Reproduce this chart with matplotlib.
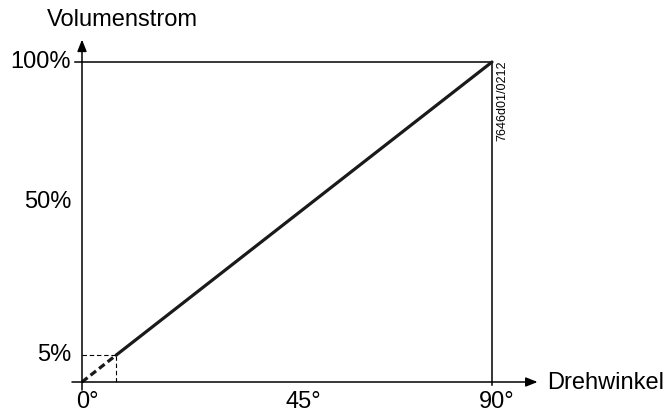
import matplotlib.pyplot as plt

plt.rcParams['font.family'] = ['Liberation Sans', 'DejaVu Sans']

# characteristic: rotation angle (deg) vs. volume flow (%)
angle = [0, 90]
flow = [0, 100]

# small-flow point shown dashed at the start
knee_angle = 7.5
knee_flow = 8.4

x_ticks = [0, 45, 90]
x_labels = ['0°', '45°', '90°']
y_ticks = [knee_flow, 56.2, 100]
y_labels = ['5%', '50%', '100%']

fig = plt.figure(figsize=(6.65, 4.16), dpi=100)
ax = fig.add_axes([82/665, 34/416, 410/665, 320/416])
ax.set_xlim(0, 90)
ax.set_ylim(0, 100)
ax.axis('off')

lw_axis = 1.1
fs = 17

# axes with arrows
ax.annotate('', xy=(100, 0), xytext=(-2.2, 0),
            arrowprops=dict(arrowstyle='-|>,head_length=0.7,head_width=0.28',
                            lw=lw_axis, color='black', shrinkA=0, shrinkB=0),
            annotation_clip=False)
ax.annotate('', xy=(0, 107), xytext=(0, -2.5),
            arrowprops=dict(arrowstyle='-|>,head_length=0.7,head_width=0.28',
                            lw=lw_axis, color='black', shrinkA=0, shrinkB=0),
            annotation_clip=False)

# frame at 100% / 90 deg
ax.plot([-1.5, angle[1]], [flow[1], flow[1]], color='black', lw=lw_axis, clip_on=False)
ax.plot([angle[1], angle[1]], [-0.8, flow[1]], color='black', lw=lw_axis, clip_on=False)

# characteristic line: dashed start, solid rest
ax.plot([angle[0], knee_angle], [flow[0], knee_flow], color='#1a1a1a', lw=2.3,
        ls=(0, (2.2, 1.2)), solid_capstyle='butt', clip_on=False)
ax.plot([knee_angle, angle[1]], [knee_flow, flow[1]], color='#1a1a1a', lw=2.3,
        solid_capstyle='round', clip_on=False)

# thin dashed helper lines for 5%
ax.plot([0, knee_angle], [knee_flow, knee_flow], color='black', lw=0.8, ls=(0, (4, 2.5)))
ax.plot([knee_angle, knee_angle], [0, knee_flow], color='black', lw=0.8, ls=(0, (4, 2.5)))

# tick labels
x_label_pos = [1.1, 48.5, 91.1]
for xp, lab in zip(x_label_pos, x_labels):
    ax.text(xp, -6.3, lab, ha='center', va='center', fontsize=fs, clip_on=False)
for yp, lab in zip(y_ticks, y_labels):
    ax.text(-2.4, yp, lab, ha='right', va='center', fontsize=fs, clip_on=False)

ax.text(8.8, 113, 'Volumenstrom', ha='center', va='center', fontsize=fs, clip_on=False)
ax.text(102.1, -0.3, 'Drehwinkel', ha='left', va='center', fontsize=fs, clip_on=False)

ax.text(92.2, 88, '7646d01/0212', rotation=90, ha='center', va='center',
        fontsize=9, clip_on=False)

fig.savefig('out.png', dpi=100)
